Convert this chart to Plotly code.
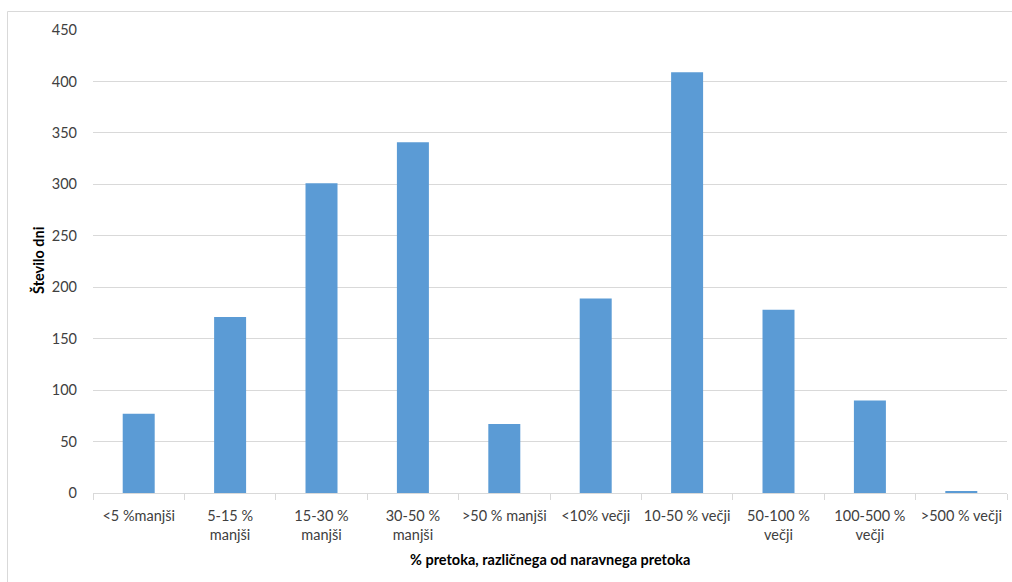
import plotly.graph_objects as go

# Categories (difference from natural flow) and number of days
categories = [
    "<5 %manjši",
    "5-15 %<br>manjši",
    "15-30 %<br>manjši",
    "30-50 %<br>manjši",
    ">50 % manjši",
    "<10% večji",
    "10-50 % večji",
    "50-100 %<br>večji",
    "100-500 %<br>večji",
    ">500 % večji",
]
days = [77, 171, 301, 341, 67, 189, 409, 178, 90, 2]
y_ticks = [0, 50, 100, 150, 200, 250, 300, 350, 400, 450]

FONT = "Lato, 'Open Sans', sans-serif"
FS = 14.5
W, H = 1012, 582
L, R, T, B = 93, 5, 30, 89

fig = go.Figure(
    go.Bar(
        x=categories,
        y=days,
        marker=dict(color="#5b9bd5", line=dict(width=0)),
        hoverinfo="x+y",
    )
)

pw = W - L - R
ph = H - T - B


def px_x(p):
    return (p - L) / pw


def px_y(p):
    return (H - B - p) / ph


fig.update_layout(
    width=W,
    height=H,
    margin=dict(l=L, r=R, t=T, b=B, autoexpand=False),
    paper_bgcolor="white",
    plot_bgcolor="white",
    bargap=0.65,
    showlegend=False,
    font=dict(family=FONT, size=FS, color="#595959"),
    xaxis=dict(
        type="category",
        showgrid=False,
        showline=True,
        linecolor="#d9d9d9",
        linewidth=1,
        ticks="outside",
        tickson="boundaries",
        ticklen=6,
        tickcolor="#d9d9d9",
        tickangle=0,
        automargin=False,
        ticklabelstandoff=10,
        tickfont=dict(family=FONT, size=FS, color="#404040"),
        fixedrange=True,
    ),
    yaxis=dict(
        range=[0, 450],
        tickvals=y_ticks,
        showgrid=True,
        gridcolor="#d9d9d9",
        gridwidth=1,
        zeroline=False,
        showline=False,
        ticks="",
        automargin=False,
        ticklabelstandoff=15,
        tickfont=dict(family=FONT, size=FS, color="#404040"),
        fixedrange=True,
    ),
    annotations=[
        dict(
            text="<b>Število dni</b>",
            xref="paper", yref="paper",
            x=px_x(38), y=px_y(261),
            xanchor="center", yanchor="middle",
            textangle=-90, showarrow=False,
            font=dict(family=FONT, size=FS, color="#000000"),
        ),
        dict(
            text="<b>% pretoka, različnega od naravnega pretoka</b>",
            xref="paper", yref="paper",
            x=px_x(550), y=px_y(559),
            xanchor="center", yanchor="middle",
            showarrow=False,
            font=dict(family=FONT, size=FS, color="#000000"),
        ),
    ],
    shapes=[
        dict(
            type="rect", xref="paper", yref="paper",
            x0=px_x(7.5), x1=px_x(1020),
            y0=px_y(600), y1=px_y(11.5),
            line=dict(color="#d9d9d9", width=1),
            fillcolor="rgba(0,0,0,0)",
            layer="below",
        )
    ],
)

fig.write_html("out.html")
